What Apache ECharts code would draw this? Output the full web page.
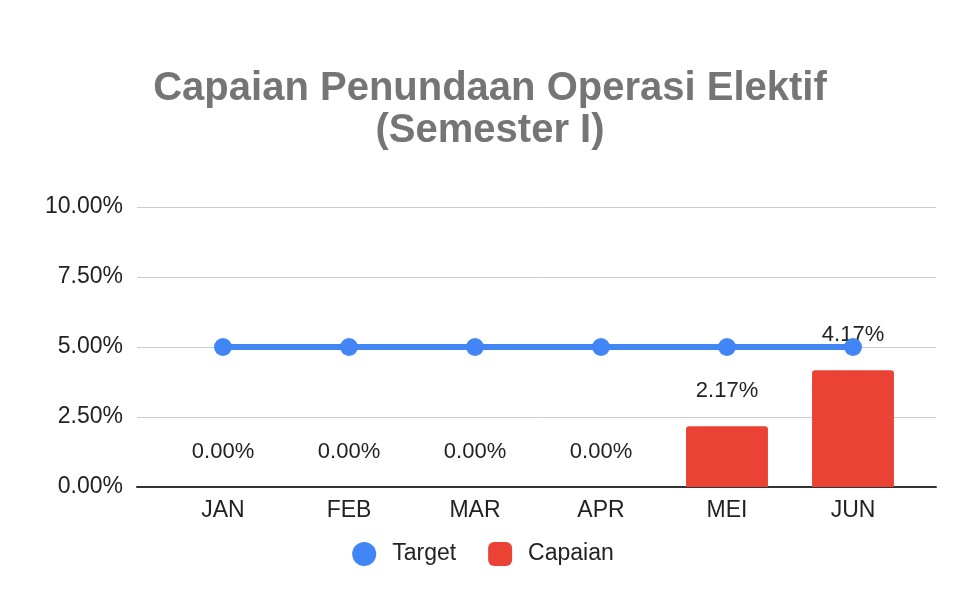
<!DOCTYPE html>
<html>
<head>
<meta charset="utf-8">
<script src="https://cdn.jsdelivr.net/npm/echarts@6/dist/echarts.min.js"></script>
<style>
html,body{margin:0;padding:0;background:#fff;}
#chart{width:966px;height:596px;}
</style>
</head>
<body>
<div id="chart"></div>
<script>
const categories = ['JAN', 'FEB', 'MAR', 'APR', 'MEI', 'JUN'];
const targetValues = [5, 5, 5, 5, 5, 5];
const capaianValues = [0, 0, 0, 0, 2.17, 4.17];
const yTicks = [0, 2.5, 5, 7.5, 10];

const chart = echarts.init(document.getElementById('chart'));
const FONT = '"Liberation Sans", Arial, sans-serif';
const fmtPct = v => v.toFixed(2) + '%';

chart.setOption({
  animation: false,
  textStyle: { fontFamily: FONT },
  title: {
    text: 'Capaian Penundaan Operasi Elektif\n(Semester I)',
    left: 485,
    top: 63,
    textAlign: 'center',
    textStyle: { fontFamily: FONT, fontSize: 40, fontWeight: 'bold', color: '#757575', lineHeight: 42 }
  },
  legend: {
    bottom: 25,
    left: 'center',
    itemWidth: 24,
    itemHeight: 24,
    itemGap: 32,
    textStyle: { fontFamily: FONT, fontSize: 23, color: '#222', padding: [0, 0, 0, 11] },
    data: [
      { name: 'Target', icon: 'circle' },
      { name: 'Capaian', icon: 'roundRect' }
    ]
  },
  grid: [
    { left: 137, right: 30, top: 207, bottom: 109 },
    { left: 160, right: 50, top: 207, bottom: 109 }
  ],
  xAxis: [
    {
      gridIndex: 0, type: 'value', min: 0, max: 1,
      axisLine: { show: true, onZero: false, lineStyle: { color: '#333', width: 2 } },
      axisTick: { show: false }, axisLabel: { show: false }, splitLine: { show: false }
    },
    {
      gridIndex: 1, type: 'category', data: categories,
      axisLine: { show: false }, axisTick: { show: false },
      axisLabel: { fontFamily: FONT, fontSize: 23, color: '#222', margin: 12 }
    }
  ],
  yAxis: [
    {
      gridIndex: 0, type: 'value', min: yTicks[0], max: yTicks[yTicks.length - 1], interval: 2.5,
      axisLine: { show: false }, axisTick: { show: false },
      axisLabel: { fontFamily: FONT, fontSize: 23, color: '#222', margin: 14, formatter: v => fmtPct(v) },
      splitLine: { lineStyle: { color: '#cccccc', width: 1 } }
    },
    {
      gridIndex: 1, type: 'value', min: yTicks[0], max: yTicks[yTicks.length - 1], interval: 2.5,
      axisLine: { show: false }, axisTick: { show: false }, axisLabel: { show: false },
      splitLine: { show: false }
    }
  ],
  series: [
    {
      name: 'Capaian', type: 'bar', xAxisIndex: 1, yAxisIndex: 1,
      data: capaianValues, barWidth: '65%',
      itemStyle: { color: '#EA4335', borderRadius: [3, 3, 0, 0] },
      label: {
        show: true, position: 'top', distance: 24,
        fontFamily: FONT, fontSize: 22, color: '#222',
        textBorderColor: '#fff', textBorderWidth: 2,
        formatter: p => fmtPct(p.value)
      },
      z: 2
    },
    {
      name: 'Target', type: 'line', xAxisIndex: 1, yAxisIndex: 1,
      data: targetValues,
      symbol: 'circle', symbolSize: 18,
      lineStyle: { color: '#4285F4', width: 6 },
      itemStyle: { color: '#4285F4' },
      z: 3
    }
  ]
});
</script>
</body>
</html>
